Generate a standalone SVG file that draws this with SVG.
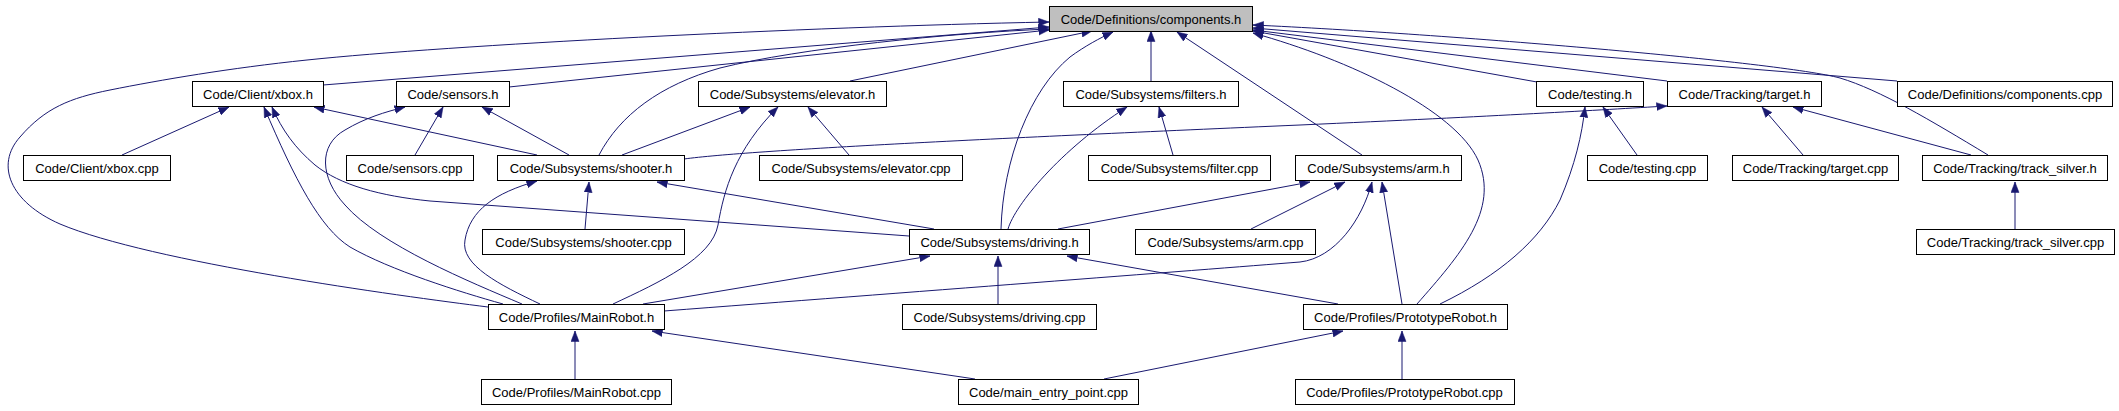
<svg xmlns="http://www.w3.org/2000/svg" width="2119" height="411" viewBox="0 0 2119 411">
<style>
.n rect{fill:#fff;stroke:#000;stroke-width:1}
.n.root rect{fill:#bfbfbf}
.n text{font-family:"Liberation Sans",Arial,sans-serif;font-size:13px;fill:#000;text-anchor:middle}
#edges path{fill:none;stroke:#191970;stroke-width:1;marker-end:url(#ah)}
</style>
<defs>
<marker id="ah" markerUnits="userSpaceOnUse" markerWidth="11" markerHeight="9" refX="10.5" refY="4.5" orient="auto">
<path d="M0,0.5 L10.5,4.5 L0,8.5 z" fill="#191970" stroke="#191970" stroke-width="0.5"/>
</marker>
</defs>
<rect x="0" y="0" width="2119" height="411" fill="#fff"/>
<g id="edges">
<path d="M488,307 C400,296 150,262 60,224 C10,202 -5,165 20,137 C45,108 70,98 110,90 C160,80 230,68 307,60 C450,45 800,27 1049,22"/>
<path d="M323,85 L1049,27"/>
<path d="M509,87 L1049,30"/>
<path d="M599,155 C620,115 660,85 720,68 C800,48 950,33 1049,29"/>
<path d="M850,81 L1092,31"/>
<path d="M1001,229 C1003,160 1030,90 1070,57 C1085,46 1100,38 1113,32"/>
<path d="M1151,81 L1151,31"/>
<path d="M1362,155 L1177,32"/>
<path d="M1417,304 C1460,255 1500,210 1478,160 C1455,110 1350,60 1253,33"/>
<path d="M1537,82 L1253,31"/>
<path d="M1667,81 L1253,30"/>
<path d="M1897,81 L1253,28"/>
<path d="M1988,155 C1930,120 1880,90 1840,78 C1780,62 1450,34 1253,25"/>
<path d="M122,155 L229,107"/>
<path d="M537,155 L314,107"/>
<path d="M503,304 C460,292 390,270 350,247 C320,228 295,180 264,107"/>
<path d="M909,236 L430,201 C380,196 340,185 315,165 C295,148 282,130 272,107"/>
<path d="M415,155 L443,107"/>
<path d="M569,155 L482,107"/>
<path d="M522,304 C470,282 380,245 345,205 C320,178 318,145 345,130 C365,118 385,112 405,107"/>
<path d="M622,155 L750,107"/>
<path d="M613,304 C660,282 712,258 718,225 C724,190 735,150 778,107"/>
<path d="M849,155 L808,107"/>
<path d="M684,159 C750,150 1000,138 1300,125 C1500,116 1600,110 1667,106"/>
<path d="M585,229 L589,182"/>
<path d="M540,304 C500,285 460,265 465,240 C470,210 495,193 537,181"/>
<path d="M934,229 L657,182"/>
<path d="M1008,229 C1015,205 1060,150 1127,107"/>
<path d="M1173,155 L1159,107"/>
<path d="M1058,229 L1310,182"/>
<path d="M1251,229 L1345,182"/>
<path d="M664,311 C900,293 1200,270 1300,262 C1335,258 1362,220 1372,182"/>
<path d="M1402,304 L1382,182"/>
<path d="M998,304 L998,256"/>
<path d="M643,304 L930,256"/>
<path d="M1338,304 L1067,256"/>
<path d="M575,379 L575,331"/>
<path d="M975,379 L652,331"/>
<path d="M1104,379 L1343,331"/>
<path d="M1402,379 L1402,331"/>
<path d="M1637,155 L1603,107"/>
<path d="M1440,304 C1500,275 1540,240 1560,200 C1575,165 1582,135 1585,107"/>
<path d="M1803,155 L1762,107"/>
<path d="M1971,155 L1793,107"/>
<path d="M2015,229 L2015,182"/>
</g>
<g id="components_h" class="n root"><rect x="1049.5" y="6.5" width="203" height="25"/><text x="1151" y="23.5">Code/Definitions/components.h</text></g>
<g id="xbox_h" class="n"><rect x="192.5" y="81.5" width="131" height="25"/><text x="258" y="98.5">Code/Client/xbox.h</text></g>
<g id="sensors_h" class="n"><rect x="396.5" y="81.5" width="113" height="25"/><text x="453" y="98.5">Code/sensors.h</text></g>
<g id="elevator_h" class="n"><rect x="698.5" y="81.5" width="188" height="25"/><text x="792.5" y="98.5">Code/Subsystems/elevator.h</text></g>
<g id="filters_h" class="n"><rect x="1063.5" y="81.5" width="175" height="25"/><text x="1151" y="98.5">Code/Subsystems/filters.h</text></g>
<g id="testing_h" class="n"><rect x="1536.5" y="81.5" width="107" height="25"/><text x="1590" y="98.5">Code/testing.h</text></g>
<g id="target_h" class="n"><rect x="1667.5" y="81.5" width="154" height="25"/><text x="1744.5" y="98.5">Code/Tracking/target.h</text></g>
<g id="components_cpp" class="n"><rect x="1897.5" y="81.5" width="215" height="25"/><text x="2005" y="98.5">Code/Definitions/components.cpp</text></g>
<g id="xbox_cpp" class="n"><rect x="23.5" y="155.5" width="147" height="25"/><text x="97" y="172.5">Code/Client/xbox.cpp</text></g>
<g id="sensors_cpp" class="n"><rect x="346.5" y="155.5" width="127" height="25"/><text x="410" y="172.5">Code/sensors.cpp</text></g>
<g id="shooter_h" class="n"><rect x="497.5" y="155.5" width="187" height="25"/><text x="591" y="172.5">Code/Subsystems/shooter.h</text></g>
<g id="elevator_cpp" class="n"><rect x="759.5" y="155.5" width="203" height="25"/><text x="861" y="172.5">Code/Subsystems/elevator.cpp</text></g>
<g id="filter_cpp" class="n"><rect x="1088.5" y="155.5" width="182" height="25"/><text x="1179.5" y="172.5">Code/Subsystems/filter.cpp</text></g>
<g id="arm_h" class="n"><rect x="1295.5" y="155.5" width="166" height="25"/><text x="1378.5" y="172.5">Code/Subsystems/arm.h</text></g>
<g id="testing_cpp" class="n"><rect x="1587.5" y="155.5" width="120" height="25"/><text x="1647.5" y="172.5">Code/testing.cpp</text></g>
<g id="target_cpp" class="n"><rect x="1732.5" y="155.5" width="166" height="25"/><text x="1815.5" y="172.5">Code/Tracking/target.cpp</text></g>
<g id="track_silver_h" class="n"><rect x="1922.5" y="155.5" width="185" height="25"/><text x="2015" y="172.5">Code/Tracking/track_silver.h</text></g>
<g id="shooter_cpp" class="n"><rect x="482.5" y="229.5" width="202" height="25"/><text x="583.5" y="246.5">Code/Subsystems/shooter.cpp</text></g>
<g id="driving_h" class="n"><rect x="909.5" y="229.5" width="180" height="25"/><text x="999.5" y="246.5">Code/Subsystems/driving.h</text></g>
<g id="arm_cpp" class="n"><rect x="1135.5" y="229.5" width="180" height="25"/><text x="1225.5" y="246.5">Code/Subsystems/arm.cpp</text></g>
<g id="track_silver_cpp" class="n"><rect x="1916.5" y="229.5" width="198" height="25"/><text x="2015.5" y="246.5">Code/Tracking/track_silver.cpp</text></g>
<g id="MainRobot_h" class="n"><rect x="488.5" y="304.5" width="176" height="25"/><text x="576.5" y="321.5">Code/Profiles/MainRobot.h</text></g>
<g id="driving_cpp" class="n"><rect x="902.5" y="304.5" width="194" height="25"/><text x="999.5" y="321.5">Code/Subsystems/driving.cpp</text></g>
<g id="PrototypeRobot_h" class="n"><rect x="1303.5" y="304.5" width="204" height="25"/><text x="1405.5" y="321.5">Code/Profiles/PrototypeRobot.h</text></g>
<g id="MainRobot_cpp" class="n"><rect x="481.5" y="379.5" width="190" height="25"/><text x="576.5" y="396.5">Code/Profiles/MainRobot.cpp</text></g>
<g id="main_entry_point_cpp" class="n"><rect x="958.5" y="379.5" width="180" height="25"/><text x="1048.5" y="396.5">Code/main_entry_point.cpp</text></g>
<g id="PrototypeRobot_cpp" class="n"><rect x="1295.5" y="379.5" width="219" height="25"/><text x="1404.5" y="396.5">Code/Profiles/PrototypeRobot.cpp</text></g>
</svg>
